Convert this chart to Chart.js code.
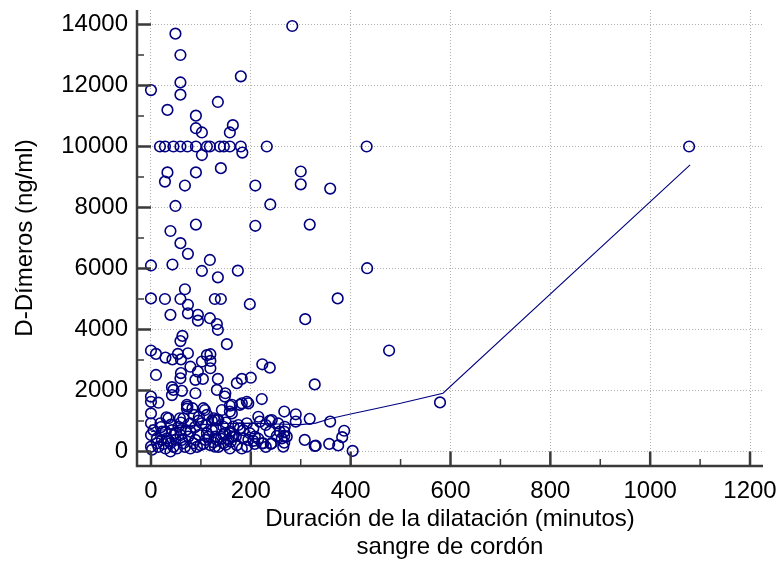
<!DOCTYPE html>
<html>
<head>
<meta charset="utf-8">
<script src="https://cdn.jsdelivr.net/npm/chart.js@4.4.1/dist/chart.umd.min.js"></script>
<style>
  html, body { margin: 0; padding: 0; background: #fff; }
  canvas { display: block; }
</style>
</head>
<body>
<canvas id="chart" width="780" height="572"></canvas>
<script>
// duration of dilatation (minutes) and cord blood D-dimer (ng/ml), one entry per patient
const durationMin = [
  0, 49, 59, 59, 59, 33, 134, 180, 283, 90, 164, 90, 102, 158,
  18, 28, 45, 59, 73, 90, 112, 118, 138, 146, 158, 180, 232, 432, 1078,
  102, 183, 33, 28, 90, 140, 68, 209, 300, 300, 359, 239, 318, 209, 433, 374,
  49, 90, 39, 59, 74, 118, 0, 43, 102, 134, 174, 68,
  0, 28, 59, 128, 140, 74, 198, 39, 74, 94, 94, 118, 132, 134, 309,
  63, 59, 152, 0, 10, 29, 43, 54, 60, 74, 112, 119, 477,
  102, 119, 119, 79, 60, 59, 94, 104, 89, 10, 134, 172, 42, 45, 62, 132, 223, 238, 200, 182, 328,
  89, 149, 222, 192, 178, 158, 148, 142, 158, 108, 73, 83, 31, 15, 0, 0, 0, 267, 290, 318,
  122, 95, 58, 579, 42, 72, 72, 105, 35, 65, 96, 86, 112, 126, 182, 195, 162, 162, 128, 133,
  215, 242, 238, 135,
  290, 359, 387, 383, 404, 375, 357, 330, 308, 267, 267, 267, 265, 252, 238, 240, 222, 208,
  195, 192, 218, 192, 175, 178, 158, 162, 145, 328,
  0, 0, 0, 2, 19, 29, 42, 55, 79, 102, 12, 12, 22, 32, 39, 29, 39, 49, 52, 59, 65, 75, 79,
  89, 96, 99, 109, 112, 119, 122, 129, 59, 46, 22, 5, 79, 70, 145, 158, 258, 268, 262, 272,
  242, 225, 182, 172, 165, 155, 145, 132, 128, 158, 148, 198, 208, 185,
  15, 25, 35, 45, 50, 62, 68, 85, 92, 105, 115, 125, 135, 140, 150, 160, 170, 205, 215, 230,
  20, 40, 60, 88, 110, 130, 150, 165, 185, 205, 230, 255
];
const dDimer = [
  11850, 13700, 13000, 12100, 11700, 11200, 11460, 12300, 13950, 11010, 10700, 10600, 10460, 10460,
  10000, 10000, 10000, 10000, 10000, 10000, 10000, 10000, 10000, 10000, 10000, 10000, 10000, 10000, 10000,
  9720, 9800, 9150, 8850, 9150, 9290, 8720, 8720, 9180, 8760, 8620, 8100, 7440, 7400, 6010, 5020,
  8050, 7440, 7230, 6830, 6480, 6280, 6100, 6130, 5920, 5710, 5930, 5320,
  5020, 5000, 5000, 5000, 5000, 4810, 4830, 4480, 4530, 4480, 4290, 4370, 4180, 3990, 4340,
  3790, 3620, 3520, 3310, 3200, 3080, 3020, 3200, 3020, 3220, 3160, 3190, 3310,
  2950, 2970, 2730, 2780, 2570, 2400, 2620, 2380, 2350, 2510, 2380, 2240, 2110, 2020, 1990, 2020, 2860, 2750, 2420, 2380, 2200,
  1910, 1910, 1720, 1630, 1530, 1500, 1800, 1360, 1310, 1360, 1470, 1420, 1120, 1600, 1800, 1630, 1250, 1310, 1220, 1070,
  1010, 1010, 1090, 1610, 1850, 1530, 1400, 1420, 1090, 1090, 1140, 1200, 1200, 1090, 1580, 1580, 1530, 1250, 1030, 1030,
  1140, 1030, 1010, 1030,
  980, 980, 680, 470, 20, 200, 250, 190, 380, 650, 510, 290, 160, 510, 650, 250, 270, 250,
  380, 160, 980, 925, 870, 760, 650, 490, 540, 180,
  925, 540, 160, 60, 925, 650, 700, 810, 925, 925, 430, 270, 380, 430, 270, 100, 0, 380, 100, 540, 270, 490, 100,
  380, 540, 210, 380, 600, 210, 700, 490, 700, 540, 650, 700, 650, 700, 810, 600, 650, 810, 430, 490,
  270, 270, 100, 210, 490, 380, 270, 380, 160, 100, 600, 600, 490, 430,
  150, 250, 350, 150, 600, 380, 150, 270, 150, 250, 480, 300, 150, 420, 220, 320, 500, 350, 420, 150,
  800, 880, 950, 800, 850, 760, 950, 820, 700, 760, 870, 920
];

// smoothed trend line
const fitX = [0, 30, 60, 100, 150, 200, 250, 300, 330, 360, 400, 440, 500, 585, 1080];
const fitY = [650, 720, 800, 880, 920, 930, 900, 880, 930, 1080, 1230, 1370, 1580, 1910, 9400];

const xTicks = [0, 200, 400, 600, 800, 1000, 1200];
const xMinorTicks = [100, 300, 500, 700, 900, 1100];
const yTicks = [0, 2000, 4000, 6000, 8000, 10000, 12000, 14000];
const yMinorTicks = [1000, 3000, 5000, 7000, 9000, 11000, 13000];

const NAVY = '#000080';
const AXIS = '#3a3a3a';

const axisPlugin = {
  id: 'axisLines',
  afterDatasetsDraw(chart) {
    const { ctx, chartArea: a, scales: { x, y } } = chart;
    const x0 = x.getPixelForValue(0);
    const y0 = y.getPixelForValue(0);
    ctx.save();
    ctx.strokeStyle = AXIS;
    ctx.lineCap = 'butt';

    ctx.lineWidth = 2.5;
    ctx.beginPath();
    ctx.moveTo(a.left, a.top);
    ctx.lineTo(a.left, a.bottom);
    ctx.lineTo(a.right, a.bottom);
    ctx.stroke();

    // major ticks point inward, up to the zero lines
    ctx.beginPath();
    xTicks.forEach(v => {
      const px = x.getPixelForValue(v);
      ctx.moveTo(px, a.bottom);
      ctx.lineTo(px, y0);
    });
    yTicks.forEach(v => {
      const py = y.getPixelForValue(v);
      ctx.moveTo(a.left, py);
      ctx.lineTo(x0, py);
    });
    ctx.stroke();

    ctx.lineWidth = 1.5;
    ctx.beginPath();
    xMinorTicks.forEach(v => {
      const px = x.getPixelForValue(v);
      ctx.moveTo(px, a.bottom);
      ctx.lineTo(px, a.bottom - 7);
    });
    yMinorTicks.forEach(v => {
      const py = y.getPixelForValue(v);
      ctx.moveTo(a.left, py);
      ctx.lineTo(a.left + 7, py);
    });
    ctx.stroke();
    ctx.restore();
  }
};

const font = { family: '"Liberation Sans", Arial, sans-serif', size: 24 };

// keep the plot box where it is: no extra room for overhanging labels
function noLabelPadding(s) {
  s.paddingTop = 0;
  s.paddingBottom = 0;
  s.paddingLeft = 0;
  s.paddingRight = 0;
}

new Chart(document.getElementById('chart'), {
  type: 'scatter',
  data: {
    datasets: [
      {
        data: durationMin.map((v, i) => ({ x: v, y: dDimer[i] })),
        pointStyle: 'circle',
        pointRadius: 5.3,
        pointBorderWidth: 1.6,
        borderColor: NAVY,
        backgroundColor: 'rgba(0,0,0,0)',
        order: 2
      },
      {
        data: fitX.map((v, i) => ({ x: v, y: fitY[i] })),
        showLine: true,
        borderColor: NAVY,
        borderWidth: 1.1,
        pointRadius: 0,
        tension: 0,
        order: 1
      }
    ]
  },
  options: {
    responsive: false,
    animation: false,
    devicePixelRatio: 1,
    layout: { padding: { left: 0, top: 10, right: 17, bottom: 0 } },
    plugins: {
      legend: { display: false },
      tooltip: { enabled: false }
    },
    scales: {
      x: {
        type: 'linear',
        min: -28,
        max: 1226,
        afterBuildTicks: s => { s.ticks = xTicks.map(v => ({ value: v })); },
        afterFit: s => { s.height = 106; noLabelPadding(s); },
        grid: { color: '#b0b0b0', lineWidth: 1, drawTicks: false },
        border: { display: false, dash: [1, 2] },
        ticks: { color: '#000', font, padding: 11, maxRotation: 0, callback: v => String(v) },
        title: {
          display: true,
          text: ['Duración de la dilatación (minutos)', 'sangre de cordón'],
          color: '#000',
          font: { ...font, lineHeight: 1.15 },
          padding: { top: 0, bottom: 11 }
        }
      },
      y: {
        type: 'linear',
        min: -475,
        max: 14475,
        afterBuildTicks: s => { s.ticks = yTicks.map(v => ({ value: v })); },
        afterFit: s => { s.width = 137; noLabelPadding(s); },
        grid: { color: '#b0b0b0', lineWidth: 1, drawTicks: false },
        border: { display: false, dash: [1, 2] },
        ticks: { color: '#000', font, padding: 9, callback: v => String(v) },
        title: {
          display: true,
          text: 'D-Dímeros (ng/ml)',
          color: '#000',
          font: { ...font, lineHeight: 1.15 },
          padding: { top: 12, bottom: 0 }
        }
      }
    }
  },
  plugins: [axisPlugin]
});
</script>
</body>
</html>
